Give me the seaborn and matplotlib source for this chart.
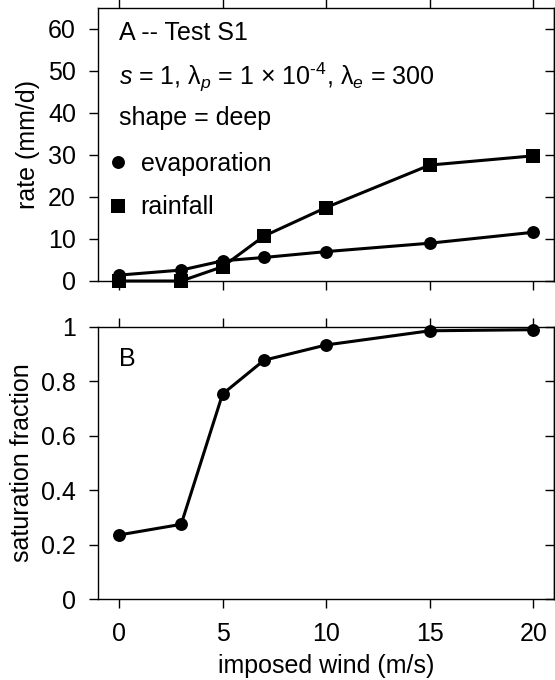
import numpy as np
import pandas as pd
import matplotlib
matplotlib.use("Agg")
import matplotlib.pyplot as plt
from matplotlib.lines import Line2D
import seaborn as sns

# Imposed wind speeds (m/s)
wind = [0, 3, 5, 7, 10, 15, 20]
# Surface evaporation and rainfall rates (mm/d)
evaporation = [1.4, 2.6, 4.8, 5.6, 7.0, 9.0, 11.6]
rainfall = [0.0, 0.0, 3.4, 10.7, 17.5, 27.6, 29.8]
# Column saturation fraction
saturation = [0.236, 0.275, 0.753, 0.877, 0.933, 0.985, 0.989]

rate_ticks = [0, 10, 20, 30, 40, 50, 60]
sat_ticks = [0, 0.2, 0.4, 0.6, 0.8, 1.0]
sat_ticklabels = ["0", "0.2", "0.4", "0.6", "0.8", "1"]
wind_ticks = [0, 5, 10, 15, 20]

sns.set_theme(style="ticks")
plt.rcParams["font.family"] = ["Liberation Sans", "DejaVu Sans"]
plt.rcParams["mathtext.fontset"] = "custom"
plt.rcParams["mathtext.rm"] = "Liberation Sans"
plt.rcParams["mathtext.it"] = "Liberation Sans:italic"
for key in ["text.color", "axes.labelcolor", "xtick.color", "ytick.color",
            "axes.edgecolor"]:
    plt.rcParams[key] = "black"
plt.rcParams["axes.linewidth"] = 1.0

FS = 18

evap_df = pd.DataFrame({"wind": wind, "rate": evaporation})
rain_df = pd.DataFrame({"wind": wind, "rate": rainfall})
sat_df = pd.DataFrame({"wind": wind, "saturation": saturation})

fig = plt.figure(figsize=(5.55, 6.8), dpi=100)
W, H = 555, 680
axA = fig.add_axes([98.3 / W, 1 - 281 / H, (554 - 98.3) / W, (281 - 8) / H])
axB = fig.add_axes([98.3 / W, 1 - 599.3 / H, (554 - 98.3) / W, (599.3 - 326.7) / H])

lw = 2.2
ms_circle = 9.3
ms_square = 10.0
line_kw = dict(color="black", linewidth=lw, markeredgewidth=0,
               clip_on=False, zorder=3)
sns.lineplot(data=evap_df, x="wind", y="rate", marker="o",
             markersize=ms_circle, ax=axA, **line_kw)
sns.lineplot(data=rain_df, x="wind", y="rate", marker="s",
             markersize=ms_square, ax=axA, **line_kw)
sns.lineplot(data=sat_df, x="wind", y="saturation", marker="o",
             markersize=ms_circle, ax=axB, **line_kw)


def style_axes(ax, yticks, yticklabels, ylim):
    ax.set_xlim(-1.0, 21.0)
    ax.set_ylim(*ylim)
    ax.set_xticks(wind_ticks)
    ax.set_yticks(yticks)
    ax.set_yticklabels(yticklabels)
    for s in ax.spines.values():
        s.set_visible(True)
        s.set_color("black")
        s.set_linewidth(1.0)
    ax.tick_params(axis="x", direction="out", top=True, bottom=True,
                   length=6.5, width=1.0, color="black", labelsize=FS, pad=10)
    ax.tick_params(axis="y", direction="out", left=True, right=False,
                   length=6.5, width=1.0, color="black", labelsize=FS, pad=9.5)
    sec = ax.secondary_yaxis("right")
    sec.set_yticks(yticks)
    sec.tick_params(direction="in", length=6.5, width=1.0, labelright=False)
    sec.spines["right"].set_linewidth(1.0)
    ax.set_xlabel("")
    ax.set_ylabel("")


style_axes(axA, rate_ticks, [str(t) for t in rate_ticks], (0, 65))
style_axes(axB, sat_ticks, sat_ticklabels, (0, 1.0))
axA.tick_params(axis="x", labelbottom=False)

axA.set_ylabel("rate (mm/d)", fontsize=FS, labelpad=6)
axB.set_ylabel("saturation fraction", fontsize=FS, labelpad=5)
axB.set_xlabel("imposed wind (m/s)", fontsize=FS, labelpad=5.5)

tx = 0.046
axA.text(tx, 0.908, "A -- Test S1", transform=axA.transAxes, fontsize=FS,
         va="center", ha="left")
axA.text(tx, 0.747,
         r"$s$ = 1, λ$_p$ = 1 × 10$^{\text{-4}}$, λ$_e$ = 300",
         transform=axA.transAxes, fontsize=FS, va="center", ha="left")
axA.text(tx, 0.597, "shape = deep", transform=axA.transAxes, fontsize=FS,
         va="center", ha="left")

handles = [
    Line2D([], [], marker="o", ls="none", color="black", markersize=ms_circle,
           markeredgewidth=0, label="evaporation"),
    Line2D([], [], marker="s", ls="none", color="black", markersize=ms_square,
           markeredgewidth=0, label="rainfall"),
]
axA.legend(handles=handles, loc="upper left", bbox_to_anchor=(0.0105, 0.50),
           frameon=False, fontsize=FS, handlelength=0.6, handletextpad=0.6,
           labelspacing=0.78, borderaxespad=0.0, borderpad=0.3)

axB.text(tx, 0.88, "B", transform=axB.transAxes, fontsize=FS,
         va="center", ha="left")

fig.savefig("out.png", dpi=100)
